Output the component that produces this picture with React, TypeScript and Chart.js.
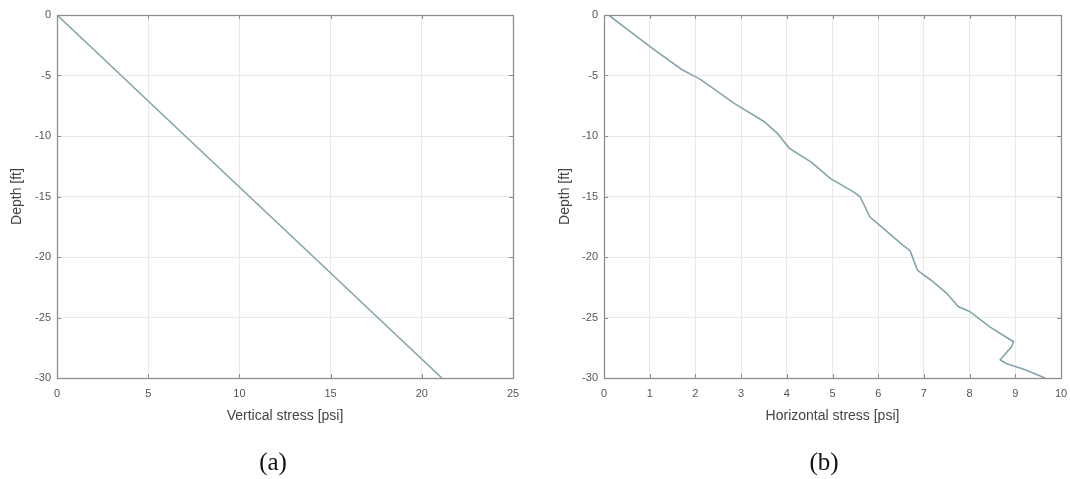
import React, { useEffect, useRef } from "react";
import { Chart, registerables } from "chart.js";

Chart.register(...registerables);

// ---- Data ----
const depthA = [0, -5, -10, -15, -20, -25, -30];
const verticalStress = [0, 3.52, 7.03, 10.55, 14.07, 17.58, 21.1];

const depthB = [
  0, -2.6, -4.5, -5.3, -7.3, -8.8, -9.8, -11.0, -12.2, -13.5, -14.6, -15.0,
  -16.7, -17.6, -18.9, -19.5, -20.3, -21.1, -21.9, -23.0, -24.1, -24.5, -25.8,
  -27.0, -27.4, -28.5, -28.8, -29.3, -30,
];
const horizontalStress = [
  0.1, 1.0, 1.7, 2.1, 2.85, 3.5, 3.8, 4.05, 4.55, 4.95, 5.45, 5.6, 5.82, 6.1,
  6.5, 6.7, 6.78, 6.86, 7.15, 7.5, 7.75, 8.0, 8.45, 8.96, 8.92, 8.67, 8.8, 9.2,
  9.65,
];

const depthTicks = [0, -5, -10, -15, -20, -25, -30];
const verticalTicks = [0, 5, 10, 15, 20, 25];
const horizontalTicks = [0, 1, 2, 3, 4, 5, 6, 7, 8, 9, 10];

const yTitle = "Depth [ft]";
const xTitleA = "Vertical stress [psi]";
const xTitleB = "Horizontal stress [psi]";

const SANS = "'Liberation Sans', Arial, sans-serif";
const LINE = "#84a4ad";
const FRAME = "#8e8e8e";
const GRID = "#e9e9e9";
const TICKTXT = "#555555";

const framePlugin = {
  id: "matlabFrame",
  afterDatasetsDraw(chart: any) {
    const { ctx, chartArea: a, scales } = chart;
    ctx.save();
    ctx.strokeStyle = FRAME;
    ctx.lineWidth = 1;
    const len = 4;
    ctx.beginPath();
    scales.x.ticks.forEach((t: any) => {
      const px = Math.round(scales.x.getPixelForValue(t.value)) + 0.5;
      ctx.moveTo(px, a.bottom);
      ctx.lineTo(px, a.bottom - len);
      ctx.moveTo(px, a.top);
      ctx.lineTo(px, a.top + len);
    });
    scales.y.ticks.forEach((t: any) => {
      const py = Math.round(scales.y.getPixelForValue(t.value)) + 0.5;
      ctx.moveTo(a.left, py);
      ctx.lineTo(a.left + len, py);
      ctx.moveTo(a.right, py);
      ctx.lineTo(a.right - len, py);
    });
    ctx.stroke();
    ctx.lineWidth = 1.3;
    ctx.strokeRect(
      Math.round(a.left) + 0.5,
      Math.round(a.top) + 0.5,
      Math.round(a.right - a.left),
      Math.round(a.bottom - a.top)
    );
    ctx.restore();
  },
};

type PanelProps = {
  xs: number[];
  ys: number[];
  xTicks: number[];
  xTitle: string;
  left: number;
  yAxisWidth: number;
  rightPad: number;
  yTitlePad: number;
};

function Panel({ xs, ys, xTicks, xTitle, left, yAxisWidth, rightPad, yTitlePad }: PanelProps) {
  const ref = useRef<HTMLCanvasElement | null>(null);
  useEffect(() => {
    if (!ref.current) return;
    const points = xs.map((x, i) => ({ x, y: ys[i] }));
    const chart = new Chart(ref.current, {
      type: "scatter",
      data: {
        datasets: [
          {
            data: points,
            showLine: true,
            borderColor: LINE,
            borderWidth: 1.6,
            pointRadius: 0,
            fill: false,
            tension: 0,
          },
        ],
      },
      options: {
        responsive: false,
        animation: false,
        devicePixelRatio: 1,
        layout: { padding: { top: 15, right: rightPad, bottom: 54, left: 0 } },
        plugins: { legend: { display: false }, tooltip: { enabled: false } },
        scales: {
          x: {
            type: "linear",
            min: xTicks[0],
            max: xTicks[xTicks.length - 1],
            afterBuildTicks: (s: any) => {
              s.ticks = xTicks.map((v) => ({ value: v }));
            },
            afterFit: (s: any) => {
              s.height = 47;
              s.paddingLeft = 0;
              s.paddingRight = 0;
            },
            grid: { color: GRID, drawTicks: false, lineWidth: 1 },
            border: { display: false },
            ticks: {
              padding: 9,
              color: TICKTXT,
              font: { family: SANS, size: 11 },
              maxRotation: 0,
              autoSkip: false,
            },
            title: {
              display: true,
              text: xTitle,
              color: "#444444",
              font: { family: SANS, size: 14 },
              padding: 0,
            },
          },
          y: {
            type: "linear",
            min: depthTicks[depthTicks.length - 1],
            max: depthTicks[0],
            afterBuildTicks: (s: any) => {
              s.ticks = depthTicks.map((v) => ({ value: v }));
            },
            afterFit: (s: any) => {
              s.width = yAxisWidth;
              s.paddingTop = 0;
              s.paddingBottom = 0;
            },
            grid: { color: GRID, drawTicks: false, lineWidth: 1 },
            border: { display: false },
            ticks: {
              padding: 6,
              color: TICKTXT,
              font: { family: SANS, size: 11 },
              autoSkip: false,
            },
            title: {
              display: true,
              text: yTitle,
              color: "#444444",
              font: { family: SANS, size: 14 },
              padding: { top: yTitlePad, bottom: 0 },
            },
          },
        },
      },
      plugins: [framePlugin],
    });
    return () => chart.destroy();
  }, []);
  return (
    <canvas
      ref={ref}
      width={535}
      height={479}
      style={{ position: "absolute", left, top: 0, width: 535, height: 479 }}
    />
  );
}

const captionStyle: React.CSSProperties = {
  position: "absolute",
  top: 447,
  fontFamily: "'Liberation Serif', 'Times New Roman', serif",
  fontSize: 25,
  lineHeight: "30px",
  color: "#111",
  transform: "translateX(-50%)",
  whiteSpace: "nowrap",
};

export default function App() {
  return (
    <div
      style={{
        position: "absolute",
        left: 0,
        top: 0,
        width: 1070,
        height: 479,
        background: "#ffffff",
        overflow: "hidden",
      }}
    >
      <Panel
        xs={verticalStress}
        ys={depthA}
        xTicks={verticalTicks}
        xTitle={xTitleA}
        left={0}
        yAxisWidth={57}
        rightPad={22}
        yTitlePad={8.6}
      />
      <Panel
        xs={horizontalStress}
        ys={depthB}
        xTicks={horizontalTicks}
        xTitle={xTitleB}
        left={535}
        yAxisWidth={69}
        rightPad={9}
        yTitlePad={21.6}
      />
      <div style={{ ...captionStyle, left: 273 }}>(a)</div>
      <div style={{ ...captionStyle, left: 824 }}>(b)</div>
    </div>
  );
}
